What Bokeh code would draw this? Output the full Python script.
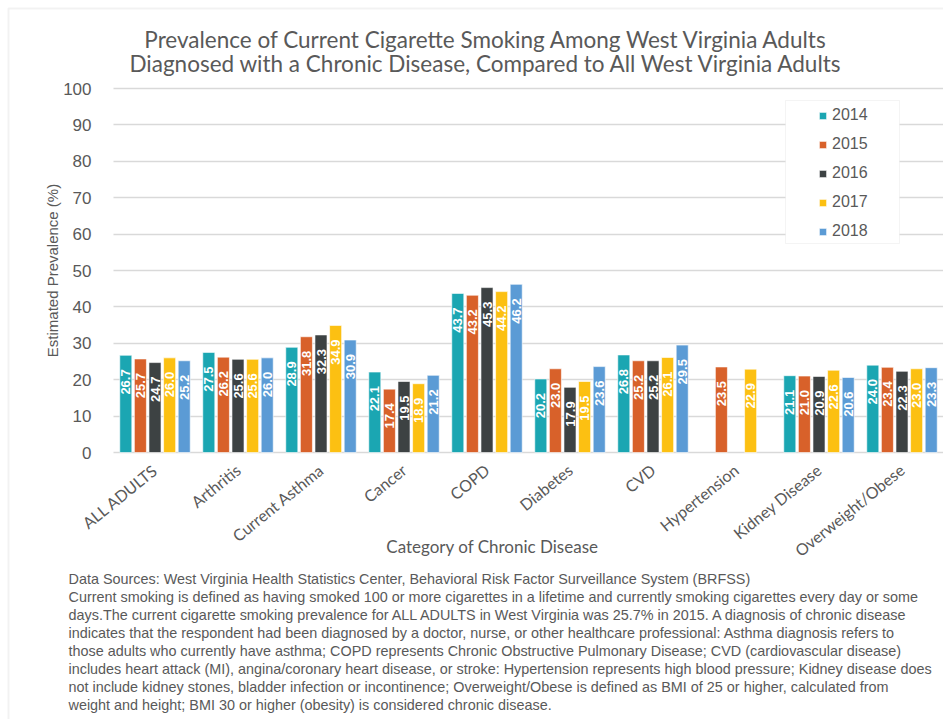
import math
import numpy as np
from bokeh.plotting import figure
from bokeh.models import (Range1d, Legend, LegendItem, ColumnDataSource,
                          BoxAnnotation, FixedTicker, Label)
from bokeh.core.properties import value
from bokeh.embed import file_html
from bokeh.resources import INLINE

categories = ["ALL ADULTS", "Arthritis", "Current Asthma", "Cancer", "COPD",
              "Diabetes", "CVD", "Hypertension", "Kidney Disease", "Overweight/Obese"]
years = ["2014", "2015", "2016", "2017", "2018"]
v2014 = [26.7, 27.5, 28.9, 22.1, 43.7, 20.2, 26.8, np.nan, 21.1, 24.0]
v2015 = [25.7, 26.2, 31.8, 17.4, 43.2, 23.0, 25.2, 23.5, 21.0, 23.4]
v2016 = [24.7, 25.6, 32.3, 19.5, 45.3, 17.9, 25.2, np.nan, 20.9, 22.3]
v2017 = [26.0, 25.6, 34.9, 18.9, 44.2, 19.5, 26.1, 22.9, 22.6, 23.0]
v2018 = [25.2, 26.0, 30.9, 21.2, 46.2, 23.6, 29.5, np.nan, 20.6, 23.3]
series = [v2014, v2015, v2016, v2017, v2018]
y_ticks = [0, 10, 20, 30, 40, 50, 60, 70, 80, 90, 100]

title_lines = ["Prevalence of Current Cigarette Smoking Among West Virginia Adults",
               "Diagnosed with a Chronic Disease, Compared to All West Virginia Adults"]
x_label = "Category of Chronic Disease"
y_label = "Estimated Prevalence (%)"
footnote_lines = [
    "Data Sources: West Virginia Health Statistics Center, Behavioral Risk Factor Surveillance System (BRFSS)",
    "Current smoking is defined as having smoked 100 or more cigarettes in a lifetime and currently smoking cigarettes every day or some",
    "days.The current cigarette smoking prevalence for ALL ADULTS in West Virginia was 25.7% in 2015. A diagnosis of chronic disease",
    "indicates that the respondent had been diagnosed by a doctor, nurse, or other healthcare professional: Asthma diagnosis refers to",
    "those adults who currently have asthma; COPD represents Chronic Obstructive Pulmonary Disease; CVD (cardiovascular disease)",
    "includes heart attack (MI), angina/coronary heart disease, or stroke: Hypertension represents high blood pressure; Kidney disease does",
    "not include kidney stones, bladder infection or incontinence; Overweight/Obese is defined as BMI of 25 or higher, calculated from",
    "weight and height; BMI 30 or higher (obesity) is considered chronic disease.",
]

colors = ["#1BA6B2", "#D8612A", "#3D4243", "#FCC012", "#5B9BD5"]
GREY = "#595959"
GRID = "#d9d9d9"
TITLE_FONT = "Lato"
BODY_FONT = "Liberation Sans"

# ---- pixel geometry (layout only) ----
W, H = 943, 719
PLOT_LEFT_PX = 113          # where category axis starts
CAT_PX = 83.0               # width of one category
ZERO_PX, HUNDRED_PX = 452, 88
PX_PER_UNIT = (ZERO_PX - HUNDRED_PX) / 100.0
n_cat = len(categories)
x_lo = -PLOT_LEFT_PX / CAT_PX
x_hi = x_lo + W / CAT_PX
y_hi = 100 + HUNDRED_PX / PX_PER_UNIT
y_lo = -(H - ZERO_PX) / PX_PER_UNIT


def xd(px):
    return px / CAT_PX + x_lo


def yd(py):
    return (ZERO_PX - py) / PX_PER_UNIT


p = figure(x_range=Range1d(x_lo, x_hi), y_range=Range1d(y_lo, y_hi),
           width=W, height=H, output_backend="svg", toolbar_location=None,
           min_border_left=0, min_border_right=0, min_border_top=0,
           min_border_bottom=0)
p.outline_line_color = None

centers = np.arange(n_cat) + 0.5

# axes
p.xaxis.fixed_location = 0
p.xaxis.ticker = FixedTicker(ticks=list(centers))
p.xaxis.major_label_overrides = {float(c): name for c, name in zip(centers, categories)}
p.xaxis.axis_line_color = None
p.xaxis.major_tick_line_color = None
p.xaxis.minor_tick_line_color = None
p.xaxis.major_label_orientation = 0.68
p.xaxis.major_label_text_font = TITLE_FONT
p.xaxis.major_label_text_font_size = "16px"
p.xaxis.major_label_text_color = GREY
p.xaxis.major_label_standoff = 9

p.yaxis.fixed_location = 0
p.yaxis.ticker = FixedTicker(ticks=y_ticks)
p.yaxis.axis_line_color = None
p.yaxis.major_tick_line_color = None
p.yaxis.minor_tick_line_color = None
p.yaxis.major_label_standoff = 16
p.yaxis.major_label_text_font = BODY_FONT
p.yaxis.major_label_text_font_size = "17px"
p.yaxis.major_label_text_color = GREY

# grid lines: only across the category area
p.xgrid.grid_line_color = None
ygrid = p.ygrid[0]
try:
    ygrid.cross_bounds = (0, n_cat)
    ygrid.grid_line_color = GRID
    ygrid.grid_line_width = 1.3
except AttributeError:
    ygrid.grid_line_color = None
    p.segment(x0=0, x1=n_cat, y0=y_ticks, y1=y_ticks, line_color=GRID,
              line_width=1.3, level="underlay")

# bars + value labels
pitch = 0.176
bw = 0.145
items = []
for i, (yr, vals, col) in enumerate(zip(years, series, colors)):
    keep = [k for k, v in enumerate(vals) if not np.isnan(v)]
    vv = [vals[k] for k in keep]
    xx = [centers[k] + (i - 2) * pitch for k in keep]
    src = ColumnDataSource(dict(x=xx, val=vv, lab=[f"{v:.1f}" for v in vv]))
    r = p.vbar(x="x", top="val", width=bw, source=src,
               fill_color=col, line_color="white", line_alpha=0.6, line_width=1)
    p.text(x="x", y="val", text="lab", source=src,
           angle=math.pi / 2, text_align="right", text_baseline="middle",
           y_offset=14, text_color="white", text_font=value(BODY_FONT),
           text_font_style="bold", text_font_size="13px")
    items.append(LegendItem(label=yr, renderers=[r]))

# outer chart border (left and top edges visible, as in the reference)
p.add_layout(BoxAnnotation(left=xd(8), right=x_hi + 1, bottom=y_lo - 5, top=yd(8),
                           fill_alpha=0, line_color="#d4d4d4", line_width=2))

# legend
p.add_layout(BoxAnnotation(left=785, right=899, bottom=H - 243, top=H - 100,
                           left_units="screen", right_units="screen",
                           bottom_units="screen", top_units="screen",
                           fill_color="white", fill_alpha=1,
                           line_color=GRID, line_width=1))
legend = Legend(items=items, location=(814, H - 245), orientation="vertical",
                glyph_width=9, glyph_height=9, label_height=20, spacing=9,
                padding=4, margin=0, label_standoff=5,
                label_text_font=BODY_FONT, label_text_font_size="16px",
                label_text_color=GREY, border_line_alpha=0,
                background_fill_alpha=0)
p.add_layout(legend)

# chart title
for k, t in enumerate(title_lines):
    p.add_layout(Label(x=xd(486), y=yd(39 + 24 * k), text=t,
                       text_align="center", text_baseline="middle",
                       text_font=TITLE_FONT, text_font_size="22.5px",
                       text_color=GREY))

# axis titles
p.add_layout(Label(x=xd(492), y=yd(546), text=x_label,
                   text_align="center", text_baseline="middle",
                   text_font=TITLE_FONT, text_font_size="17px", text_color=GREY))
p.add_layout(Label(x=xd(52), y=yd(270), text=y_label, angle=math.pi / 2,
                   text_align="center", text_baseline="middle",
                   text_font=BODY_FONT, text_font_size="15px", text_color=GREY))

# footnote
for k, t in enumerate(footnote_lines):
    p.add_layout(Label(x=xd(68), y=yd(578 + 18 * k), text=t,
                       text_align="left", text_baseline="middle",
                       text_font=BODY_FONT, text_font_size="14.4px",
                       text_color=GREY))

open("out.html", "w").write(file_html(p, INLINE))
